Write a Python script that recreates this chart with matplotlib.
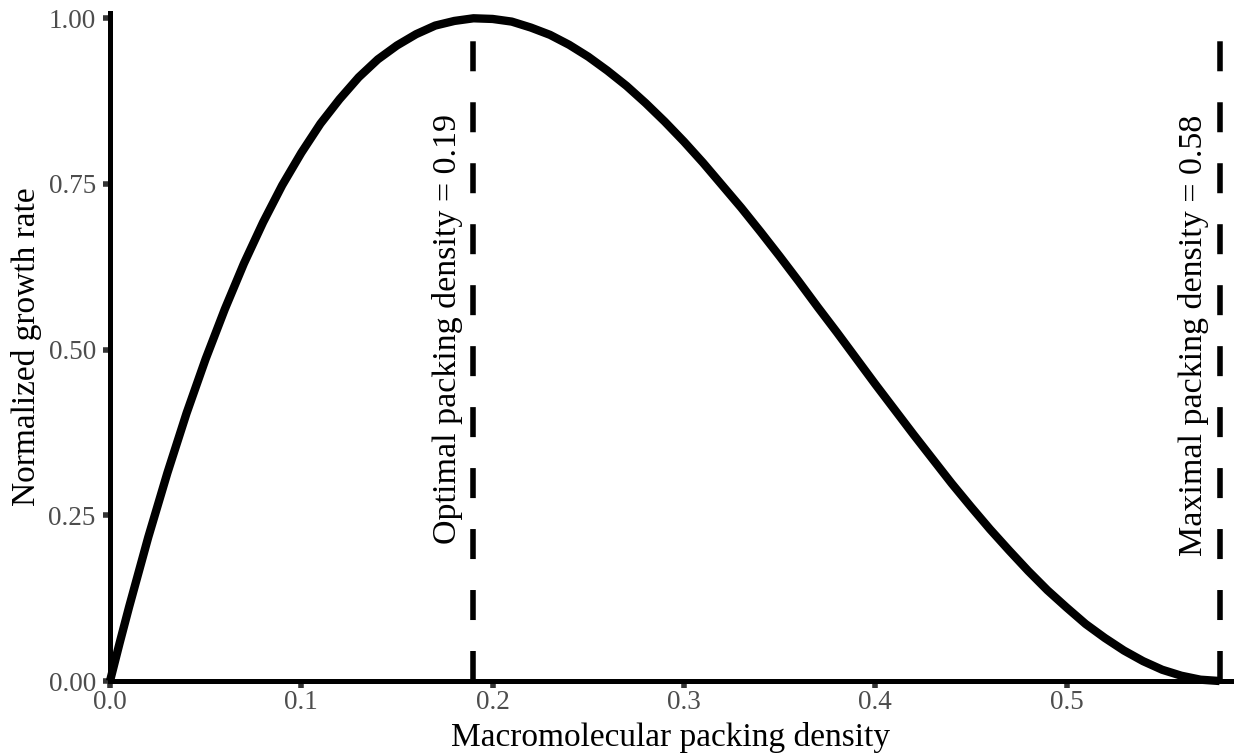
import matplotlib
matplotlib.use("Agg")
import matplotlib.pyplot as plt

# growth curve, read at fixed packing densities
density = [0.0, 0.005, 0.01, 0.02, 0.03, 0.04, 0.05, 0.06, 0.07, 0.08, 0.09,
           0.10, 0.11, 0.12, 0.13, 0.14, 0.15, 0.16, 0.17, 0.18, 0.19,
           0.20, 0.21, 0.22, 0.23, 0.24, 0.25, 0.26, 0.27, 0.28, 0.29,
           0.30, 0.31, 0.32, 0.33, 0.34, 0.35, 0.36, 0.37, 0.38, 0.39,
           0.40, 0.41, 0.42, 0.43, 0.44, 0.45, 0.46, 0.47, 0.48, 0.49,
           0.50, 0.51, 0.52, 0.53, 0.54, 0.55, 0.56, 0.57, 0.58]
growth = [0.0, 0.057, 0.112, 0.217, 0.314, 0.404, 0.486, 0.561, 0.630, 0.692, 0.748,
          0.797, 0.841, 0.878, 0.911, 0.938, 0.959, 0.976, 0.989, 0.996, 1.000,
          0.999, 0.995, 0.986, 0.975, 0.960, 0.942, 0.921, 0.898, 0.872, 0.844,
          0.814, 0.782, 0.748, 0.714, 0.678, 0.641, 0.603, 0.564, 0.526, 0.487,
          0.448, 0.410, 0.372, 0.335, 0.298, 0.263, 0.229, 0.197, 0.166, 0.137,
          0.111, 0.086, 0.065, 0.046, 0.030, 0.017, 0.008, 0.002, 0.0]

# reference densities marked with dashed lines
marker_values = [0.19, 0.58]
marker_labels = ["Optimal packing density = 0.19", "Maximal packing density = 0.58"]

x_ticks = [0.0, 0.1, 0.2, 0.3, 0.4, 0.5]
x_ticklabels = ["0.0", "0.1", "0.2", "0.3", "0.4", "0.5"]
y_ticks = [0.0, 0.25, 0.5, 0.75, 1.0]
y_ticklabels = ["0.00", "0.25", "0.50", "0.75", "1.00"]

plt.rcParams["font.family"] = ["Liberation Serif", "DejaVu Serif"]
plt.rcParams["lines.scale_dashes"] = False

fig = plt.figure(figsize=(12.36, 7.55), dpi=100)
ax = fig.add_axes([0.089, 0.098, 0.907, 0.8848])

ax.plot(density, growth, color="black", lw=6, solid_capstyle="butt", zorder=3,
        clip_on=False)

for xv, lab in zip(marker_values, marker_labels):
    ax.axvline(xv, color="black", lw=4, dashes=(21.6, 22.3), zorder=2)
    ax.text(xv - 0.0135, 0.855, lab, rotation=90, ha="center", va="top",
            fontsize=24.5, color="black")

ax.set_xlim(0, 0.586)
ax.set_ylim(0, 1.008)

for side in ["top", "right"]:
    ax.spines[side].set_visible(False)
for side in ["left", "bottom"]:
    ax.spines[side].set_linewidth(3.6)
    ax.spines[side].set_color("black")
    ax.spines[side].set_zorder(4)

ax.set_xticks(x_ticks)
ax.set_xticklabels(x_ticklabels)
ax.set_yticks(y_ticks)
ax.set_yticklabels(y_ticklabels)
ax.tick_params(axis="both", direction="out", length=4.7, width=4,
               color="#333333", labelcolor="#4d4d4d", labelsize=19.5)
ax.tick_params(axis="y", pad=5.5)
ax.tick_params(axis="x", pad=2)

ax.set_xlabel("Macromolecular packing density", fontsize=24, color="black")
ax.set_ylabel("Normalized growth rate", fontsize=24, color="black")
ax.xaxis.set_label_coords(0.5, -0.062)
ax.yaxis.set_label_coords(-0.061, 0.5)

fig.savefig("out.png", dpi=100)
